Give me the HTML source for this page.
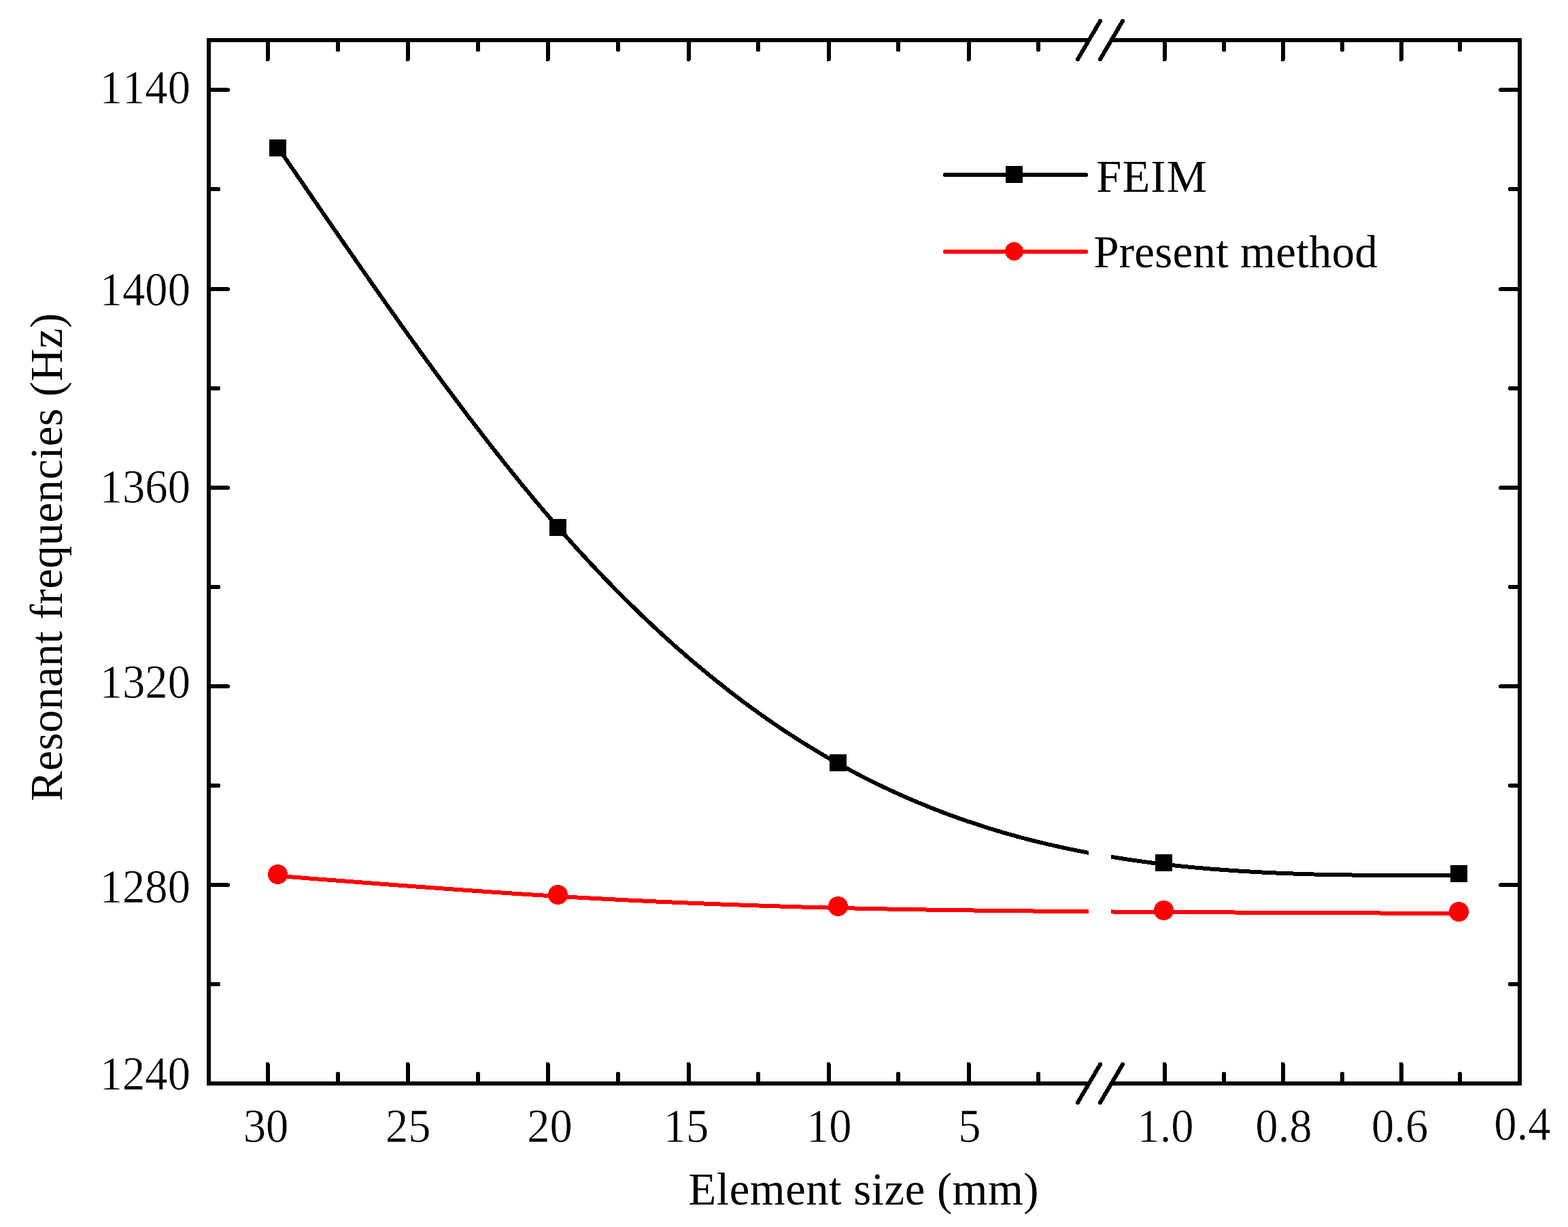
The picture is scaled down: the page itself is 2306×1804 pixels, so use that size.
<!DOCTYPE html>
<html lang="en"><head><meta charset="utf-8"><title>Resonant frequencies vs element size</title>
<style>html,body{margin:0;padding:0;background:#fff}body{width:2306px;height:1804px;overflow:hidden}svg{display:block}text{font-family:"Liberation Serif",serif;font-size:66.67px;fill:#000;font-kerning:none;font-variant-ligatures:none;white-space:pre}.tk{stroke:#fff;stroke-width:0.5px;paint-order:fill stroke}</style></head><body>
<svg width="2306" height="1804" viewBox="0 0 2306 1804">
<rect width="2306" height="1804" fill="#fff"/>
<g fill="none" stroke-width="6" stroke-linejoin="round" shape-rendering="crispEdges">
<path stroke="#000" d="M411.00,220.00 C548.33,420.63 685.67,621.26 823.00,778.00 C960.33,934.74 1097.67,1047.59 1235.00,1124.00 C1394.67,1212.84 1554.33,1252.42 1714.00,1271.00 C1858.67,1287.83 2003.33,1287.42 2148.00,1287.00"/>
<path stroke="#f00" d="M411.00,1288.00 C548.33,1298.91 685.67,1309.82 823.00,1318.00 C960.33,1326.18 1097.67,1331.61 1235.00,1335.00 C1394.67,1338.94 1554.33,1340.10 1714.00,1341.00 C1858.67,1341.81 2003.33,1342.41 2148.00,1343.00"/>
</g>
<rect x="1601" y="1200" width="33" height="200" fill="#fff"/>
<g shape-rendering="crispEdges">
<rect x="396" y="205" width="25" height="25" fill="#000"/>
<rect x="808" y="763" width="25" height="25" fill="#000"/>
<rect x="1220" y="1109" width="25" height="25" fill="#000"/>
<rect x="1699" y="1256" width="25" height="25" fill="#000"/>
<rect x="2133" y="1272" width="25" height="25" fill="#000"/>
<circle cx="408.5" cy="1285.5" r="14.5" fill="#f00"/>
<circle cx="820.5" cy="1315.5" r="14.5" fill="#f00"/>
<circle cx="1232.5" cy="1332.5" r="14.5" fill="#f00"/>
<circle cx="1711.5" cy="1338.5" r="14.5" fill="#f00"/>
<circle cx="2145.5" cy="1340.5" r="14.5" fill="#f00"/>
</g>
<g fill="#000" shape-rendering="crispEdges">
<rect x="304" y="56" width="6" height="1540"/>
<rect x="2232" y="56" width="6" height="1540"/>
<rect x="304" y="56" width="1297" height="6"/>
<rect x="1634" y="56" width="604" height="6"/>
<rect x="304" y="1590" width="1297" height="6"/>
<rect x="1634" y="1590" width="604" height="6"/>
<path d="M391,62 H397 V88 H396 V90 H391 Z"/>
<path d="M391,1590 H397 V1564 H396 V1562 H391 Z"/>
<path d="M597,62 H603 V88 H602 V90 H597 Z"/>
<path d="M597,1590 H603 V1564 H602 V1562 H597 Z"/>
<path d="M803,62 H809 V88 H808 V90 H803 Z"/>
<path d="M803,1590 H809 V1564 H808 V1562 H803 Z"/>
<path d="M1010,62 H1016 V88 H1015 V90 H1010 Z"/>
<path d="M1010,1590 H1016 V1564 H1015 V1562 H1010 Z"/>
<path d="M1216,62 H1222 V88 H1221 V90 H1216 Z"/>
<path d="M1216,1590 H1222 V1564 H1221 V1562 H1216 Z"/>
<path d="M1422,62 H1428 V88 H1427 V90 H1422 Z"/>
<path d="M1422,1590 H1428 V1564 H1427 V1562 H1422 Z"/>
<path d="M1710,62 H1716 V88 H1715 V90 H1710 Z"/>
<path d="M1710,1590 H1716 V1564 H1715 V1562 H1710 Z"/>
<path d="M1884,62 H1890 V88 H1889 V90 H1884 Z"/>
<path d="M1884,1590 H1890 V1564 H1889 V1562 H1884 Z"/>
<path d="M2058,62 H2064 V88 H2063 V90 H2058 Z"/>
<path d="M2058,1590 H2064 V1564 H2063 V1562 H2058 Z"/>
<path d="M494,62 H500 V75 H499 V76 H495 V75 H494 Z"/>
<path d="M494,1590 H500 V1577 H499 V1576 H495 V1577 H494 Z"/>
<path d="M700,62 H706 V75 H705 V76 H701 V75 H700 Z"/>
<path d="M700,1590 H706 V1577 H705 V1576 H701 V1577 H700 Z"/>
<path d="M906,62 H912 V75 H911 V76 H907 V75 H906 Z"/>
<path d="M906,1590 H912 V1577 H911 V1576 H907 V1577 H906 Z"/>
<path d="M1112,62 H1118 V75 H1117 V76 H1113 V75 H1112 Z"/>
<path d="M1112,1590 H1118 V1577 H1117 V1576 H1113 V1577 H1112 Z"/>
<path d="M1318,62 H1324 V75 H1323 V76 H1319 V75 H1318 Z"/>
<path d="M1318,1590 H1324 V1577 H1323 V1576 H1319 V1577 H1318 Z"/>
<path d="M1524,62 H1530 V75 H1529 V76 H1525 V75 H1524 Z"/>
<path d="M1524,1590 H1530 V1577 H1529 V1576 H1525 V1577 H1524 Z"/>
<path d="M1797,62 H1803 V75 H1802 V76 H1798 V75 H1797 Z"/>
<path d="M1797,1590 H1803 V1577 H1802 V1576 H1798 V1577 H1797 Z"/>
<path d="M1971,62 H1977 V75 H1976 V76 H1972 V75 H1971 Z"/>
<path d="M1971,1590 H1977 V1577 H1976 V1576 H1972 V1577 H1971 Z"/>
<path d="M2144,62 H2150 V75 H2149 V76 H2145 V75 H2144 Z"/>
<path d="M2144,1590 H2150 V1577 H2149 V1576 H2145 V1577 H2144 Z"/>
<path d="M310,129 V135 H337 V134 H338 V130 H336 V129 Z"/>
<path d="M2232,129 V135 H2205 V134 H2204 V130 H2206 V129 Z"/>
<path d="M310,422 V428 H337 V427 H338 V423 H336 V422 Z"/>
<path d="M2232,422 V428 H2205 V427 H2204 V423 H2206 V422 Z"/>
<path d="M310,714 V720 H337 V719 H338 V715 H336 V714 Z"/>
<path d="M2232,714 V720 H2205 V719 H2204 V715 H2206 V714 Z"/>
<path d="M310,1006 V1012 H337 V1011 H338 V1007 H336 V1006 Z"/>
<path d="M2232,1006 V1012 H2205 V1011 H2204 V1007 H2206 V1006 Z"/>
<path d="M310,1298 V1304 H337 V1303 H338 V1299 H336 V1298 Z"/>
<path d="M2232,1298 V1304 H2205 V1303 H2204 V1299 H2206 V1298 Z"/>
<path d="M310,275 V281 H323 V280 H324 V276 H323 V275 Z"/>
<path d="M2232,275 V281 H2219 V280 H2218 V276 H2219 V275 Z"/>
<path d="M310,568 V574 H323 V573 H324 V569 H323 V568 Z"/>
<path d="M2232,568 V574 H2219 V573 H2218 V569 H2219 V568 Z"/>
<path d="M310,860 V866 H323 V865 H324 V861 H323 V860 Z"/>
<path d="M2232,860 V866 H2219 V865 H2218 V861 H2219 V860 Z"/>
<path d="M310,1152 V1158 H323 V1157 H324 V1153 H323 V1152 Z"/>
<path d="M2232,1152 V1158 H2219 V1157 H2218 V1153 H2219 V1152 Z"/>
<path d="M310,1444 V1450 H323 V1449 H324 V1445 H323 V1444 Z"/>
<path d="M2232,1444 V1450 H2219 V1449 H2218 V1445 H2219 V1444 Z"/>
</g>
<g stroke="#000" stroke-width="6" stroke-linecap="round" fill="none" shape-rendering="crispEdges">
<line x1="1585" y1="87" x2="1618" y2="31"/>
<line x1="1618" y1="87" x2="1651" y2="31"/>
<line x1="1585" y1="1621" x2="1618" y2="1565"/>
<line x1="1618" y1="1621" x2="1651" y2="1565"/>
</g>
<g shape-rendering="crispEdges">
<line x1="1390" y1="257" x2="1597" y2="257" stroke="#000" stroke-width="6" stroke-linecap="round"/>
<rect x="1479" y="244" width="25" height="25" fill="#000"/>
<line x1="1390" y1="370" x2="1597" y2="370" stroke="#f00" stroke-width="6" stroke-linecap="round"/>
<circle cx="1491.5" cy="369.5" r="13.5" fill="#f00"/>
</g>
<text id="lg1" x="1612.2" y="282" style="letter-spacing:1.2px">FEIM</text>
<text id="lg2" x="1608.4" y="393" style="letter-spacing:0.35px">Present method</text>
<text class="tk" id="yl0" transform="translate(280,152.3) scale(1,1.035)" text-anchor="end">1140</text>
<text class="tk" id="yl1" transform="translate(280,448.8) scale(1,1.035)" text-anchor="end">1400</text>
<text class="tk" id="yl2" transform="translate(280,738.8) scale(1,1.035)" text-anchor="end">1360</text>
<text class="tk" id="yl3" transform="translate(280,1025.8) scale(1,1.035)" text-anchor="end">1320</text>
<text class="tk" id="yl4" transform="translate(280,1327.3) scale(1,1.035)" text-anchor="end">1280</text>
<text class="tk" id="yl5" transform="translate(280,1602.3) scale(1,1.035)" text-anchor="end">1240</text>
<text class="tk" id="xl0" transform="translate(391,1678.9) scale(1,1.035)" text-anchor="middle">30</text>
<text class="tk" id="xl1" transform="translate(600.3,1678.9) scale(1,1.035)" text-anchor="middle">25</text>
<text class="tk" id="xl2" transform="translate(808.5,1678.9) scale(1,1.035)" text-anchor="middle">20</text>
<text class="tk" id="xl3" transform="translate(1009,1678.9) scale(1,1.035)" text-anchor="middle">15</text>
<text class="tk" id="xl4" transform="translate(1219.3,1678.9) scale(1,1.035)" text-anchor="middle">10</text>
<text class="tk" id="xl5" transform="translate(1426,1678.9) scale(1,1.035)" text-anchor="middle">5</text>
<text class="tk" id="xl6" transform="translate(1714,1678.9) scale(1,1.035)" text-anchor="middle">1.0</text>
<text class="tk" id="xl7" transform="translate(1888,1678.9) scale(1,1.035)" text-anchor="middle">0.8</text>
<text class="tk" id="xl8" transform="translate(2058.6,1678.9) scale(1,1.035)" text-anchor="middle">0.6</text>
<text class="tk" id="xl9" transform="translate(2239,1675.9) scale(1,1.035)" text-anchor="middle">0.4</text>
<text id="xt" x="1012.5" y="1771" style="letter-spacing:0.49px">Element size (mm)</text>
<text id="yt" transform="translate(91,1178) rotate(-90) scale(1,1.025)" x="0" y="0" style="letter-spacing:0.29px">Resonant frequencies (Hz)</text>
</svg></body></html>
